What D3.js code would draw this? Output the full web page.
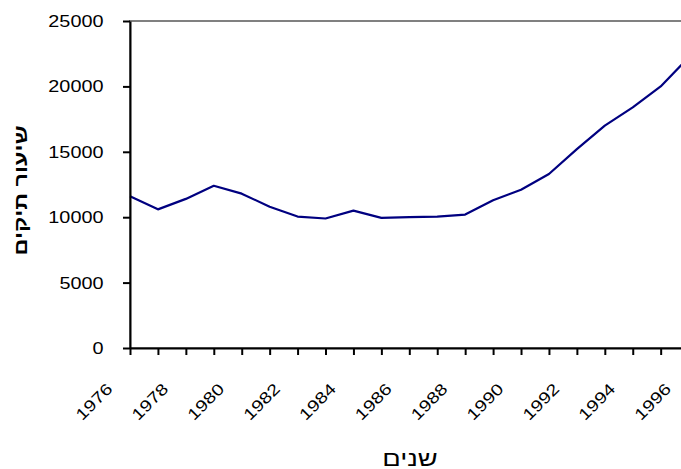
<!DOCTYPE html>
<html><head><meta charset="utf-8">
<script src="https://cdn.jsdelivr.net/npm/d3@7"></script>
<style>
html,body{margin:0;padding:0;background:#fff;overflow:hidden;}
svg{display:block;}
text{font-family:"Liberation Sans",Arial,sans-serif;fill:#000;}
</style></head>
<body>
<script>
const years = [1976,1977,1978,1979,1980,1981,1982,1983,1984,1985,1986,1987,1988,1989,1990,1991,1992,1993,1994,1995,1996];
const values = [11600,10600,11400,12400,11800,10800,10050,9900,10500,9950,10000,10050,10200,11300,12100,13300,15200,17000,18400,20000,22200];
const yTicks = [0,5000,10000,15000,20000,25000];
const xLabelYears = [1976,1978,1980,1982,1984,1986,1988,1990,1992,1994,1996];
const yTitle = "שיעור תיקים";
const xTitle = "שנים";

const W = 681, H = 469;
const pLeft = 130, pRight = 688.6, pTop = 21, pBottom = 348;
const SX = 1.24;

const svg = d3.select("body").append("svg").attr("width", W).attr("height", H);

const x = d3.scaleLinear().domain([1976,1996]).range([pLeft,pRight]);
const y = d3.scaleLinear().domain([0,25000]).range([pBottom,pTop]);

// plot area border (gray)
svg.append("rect").attr("x", pLeft).attr("y", pTop)
  .attr("width", pRight-pLeft).attr("height", pBottom-pTop)
  .attr("fill","none").attr("stroke","#808080").attr("stroke-width",2);

// data line
svg.append("path").datum(years.map((yr,i)=>[yr, values[i]]))
  .attr("fill","none").attr("stroke","#000080").attr("stroke-width",2.2)
  .attr("stroke-linejoin","round")
  .attr("d", d3.line().x(d=>x(d[0])).y(d=>y(d[1])));

// y axis
const gy = svg.append("g").attr("transform",`translate(${pLeft},0)`)
  .call(d3.axisLeft(y).tickValues(yTicks).tickSize(7).tickSizeOuter(0).tickFormat(d3.format("d")));
gy.select(".domain").attr("stroke","#000").attr("stroke-width",2);
gy.selectAll(".tick line").attr("stroke","#000").attr("stroke-width",2);
gy.selectAll(".tick text").attr("x",0).attr("dy",null).attr("y",5.5)
  .attr("transform",`translate(-26.5,0) scale(${SX},1)`)
  .attr("text-anchor","end").style("font-size","16px").attr("fill","#000");

// x axis
const gx = svg.append("g").attr("transform",`translate(0,${pBottom})`)
  .call(d3.axisBottom(x).tickValues(years).tickSize(7).tickSizeOuter(0)
    .tickFormat(d => xLabelYears.includes(d) ? String(d) : ""));
gx.select(".domain").attr("stroke","#000").attr("stroke-width",2);
gx.selectAll(".tick line").attr("stroke","#000").attr("stroke-width",2);
gx.selectAll(".tick text").attr("y",0).attr("dy",null).attr("x",0)
  .attr("transform",`translate(-17,42) rotate(-45) scale(${SX},1)`)
  .attr("text-anchor","end").style("font-size","16px").attr("fill","#000");

// titles
svg.append("text")
  .attr("transform",`translate(27,190.5) rotate(-90) scale(1.3,1)`)
  .attr("text-anchor","middle").attr("direction","rtl")
  .style("font-size","18px").style("font-weight","bold")
  .text(yTitle);

svg.append("text")
  .attr("transform",`translate(410,466) scale(1.3,1)`)
  .attr("text-anchor","middle").attr("direction","rtl")
  .style("font-size","21px")
  .text(xTitle);
</script>
</body></html>
